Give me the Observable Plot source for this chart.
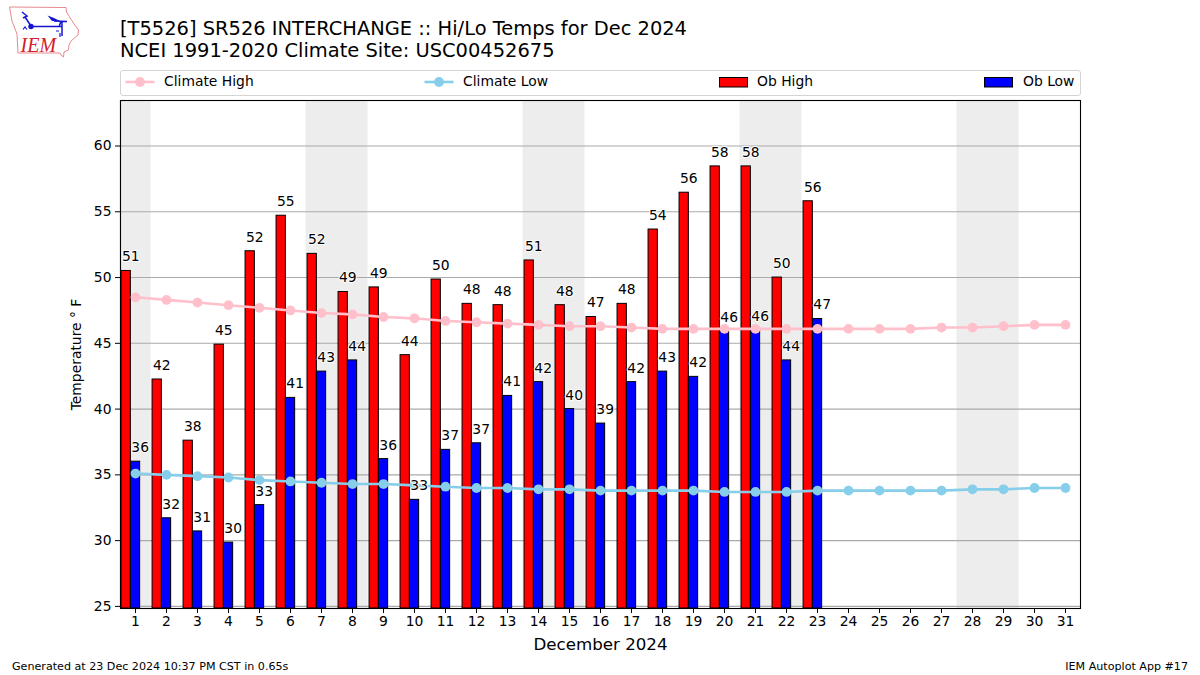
<!DOCTYPE html>
<html><head><meta charset="utf-8">
<script src="https://cdn.jsdelivr.net/npm/d3@7"></script>
<script src="https://cdn.jsdelivr.net/npm/@observablehq/plot@0.6"></script>
<style>
html,body{margin:0;padding:0;background:#fff;width:1200px;height:675px;overflow:hidden;font-family:"DejaVu Sans",sans-serif;color:#000}
#page{position:relative;width:1200px;height:675px}
#page>*{position:absolute}
#chart{left:0;top:0}
#chart svg{display:block}
.t{white-space:nowrap;line-height:1}
#legend{left:120px;top:70px;width:959px;height:24px;border:1px solid #d4d4d4;border-radius:3px}
#legend .t,#legend svg{position:absolute}
</style></head><body>
<div id="page">
<div id="chart"></div>
<svg id="logo" style="left:8px;top:5px" width="72" height="54" viewBox="8 5 72 54">
<path d="M9.5 7 L66 7.5 L66.5 12 L69 16 L74 24 L78.5 30 L78 35 L71 41 L69 45 L68.5 50 L64 52 L63.5 57 L61 55 L60 53 L18 53 L17 34 L12 21 Z" fill="none" stroke="#e58a8f" stroke-width="1"/>
<path d="M31 26.5 H62 M54 21 L67 21.5 M59 27 L61 21 M62 21 V36 M22 12 L27 16 L23 18 M25 17 L31 26" fill="none" stroke="#1414d2" stroke-width="1.5"/>
<path d="M47.5 15.5 L54 18 L60 21 L52 21 Z" fill="#1414d2"/>
<circle cx="31" cy="26.5" r="2.7" fill="#1414d2"/>
<path d="M23 29.5 L25 27 L27 29.5 M56 31 h3 M60 33 v4" fill="none" stroke="#1414d2" stroke-width="1.2"/>
<text x="20.5" y="52" font-family="Liberation Serif" font-style="italic" font-size="20" fill="#d6202a">IEM</text>
</svg>
<div class="t" style="left:120px;top:19px;font-size:19.44px">[T5526] SR526 INTERCHANGE :: Hi/Lo Temps for Dec 2024</div>
<div class="t" style="left:120px;top:41px;font-size:19.44px">NCEI 1991-2020 Climate Site: USC00452675</div>
<div id="legend">
<svg style="left:4px;top:3.5px" width="30" height="14"><line x1="0.5" x2="29.5" y1="7" y2="7" stroke="#ffc0cb" stroke-width="2.6"/><circle cx="15" cy="7" r="4.9" fill="#ffc0cb"/></svg>
<div class="t" style="left:43px;top:4px;font-size:13.89px">Climate High</div>
<svg style="left:303px;top:3.5px" width="30" height="14"><line x1="0.5" x2="29.5" y1="7" y2="7" stroke="#87ceeb" stroke-width="2.6"/><circle cx="15" cy="7" r="4.9" fill="#87ceeb"/></svg>
<div class="t" style="left:342px;top:4px;font-size:13.89px">Climate Low</div>
<svg style="left:598px;top:6px" width="30" height="11"><rect x="0.5" y="0.5" width="28" height="9.5" fill="#f00" stroke="#000"/></svg>
<div class="t" style="left:636px;top:4px;font-size:13.89px">Ob High</div>
<svg style="left:863px;top:6px" width="30" height="11"><rect x="0.5" y="0.5" width="28" height="9.5" fill="#00f" stroke="#000"/></svg>
<div class="t" style="left:902px;top:4px;font-size:13.89px">Ob Low</div>
</div>
<div class="t" style="left:12px;top:661px;font-size:11.11px">Generated at 23 Dec 2024 10:37 PM CST in 0.65s</div>
<div class="t" style="right:12px;top:661px;font-size:11.11px">IEM Autoplot App #17</div>
</div>
<script>
const days = d3.range(1, 32);
const obHigh = [50.5,42.25,37.6,44.9,52,54.7,51.8,48.9,49.25,44.1,49.85,48,47.9,51.3,47.9,47,48,53.65,56.45,58.45,58.45,50,55.8];
const obLow = [36,31.7,30.7,29.85,32.7,40.85,42.85,43.7,36.2,33.1,36.9,37.4,41,42.05,40,38.9,42.05,42.85,42.45,45.9,46,43.7,46.85];
const highLabels = [51,42,38,45,52,55,52,49,49,44,50,48,48,51,48,47,48,54,56,58,58,50,56];
const lowLabels = [36,32,31,30,33,41,43,44,36,33,37,37,41,42,40,39,42,43,42,46,46,44,47];
const climateHigh = [48.5,48.3,48.1,47.9,47.7,47.5,47.3,47.2,47,46.9,46.7,46.6,46.5,46.4,46.3,46.3,46.2,46.1,46.1,46.1,46.1,46.1,46.1,46.1,46.1,46.1,46.2,46.2,46.3,46.4,46.4];
const climateLow = [35.1,35,34.9,34.8,34.6,34.5,34.4,34.3,34.3,34.2,34.1,34,34,33.9,33.9,33.8,33.8,33.8,33.8,33.7,33.7,33.7,33.8,33.8,33.8,33.8,33.8,33.9,33.9,34,34];
const weekends = [[0.5,1.5],[6.5,8.5],[13.5,15.5],[20.5,22.5],[27.5,29.5]];
const yTicks = [25,30,35,40,45,50,55,60];
const yBase = 24.84, yTop = 63.46, barW = 0.3;

const table = vals => vals.map((v, i) => ({day: i + 1, v}));
const halo = {stroke: "#fff", strokeWidth: 2, fill: "#000", fontSize: 13.89, lineAnchor: "middle", dy: -14};

const plot = Plot.plot({
  width: 1200, height: 675,
  marginLeft: 120, marginRight: 120, marginTop: 100, marginBottom: 67,
  style: {fontFamily: "'DejaVu Sans',sans-serif", background: "#fff", color: "#000"},
  x: {domain: [0.516, 31.484], label: null},
  y: {domain: [yBase, yTop], label: null},
  marks: [
    Plot.rect(weekends, {x1: d => d[0], x2: d => d[1], y1: yBase, y2: yTop, fill: "#ededed"}),
    Plot.ruleY(yTicks, {stroke: "#aaaaaa", strokeWidth: 1.1}),
    Plot.rect(table(obHigh), {x1: d => d.day - 1.5 * barW, x2: d => d.day - 0.5 * barW, y1: yBase, y2: "v", fill: "#f00", stroke: "#000", strokeWidth: 1}),
    Plot.rect(table(obLow), {x1: d => d.day - 0.5 * barW, x2: d => d.day + 0.5 * barW, y1: yBase, y2: "v", fill: "#00f", stroke: "#000", strokeWidth: 1}),
    Plot.line(table(climateHigh), {x: "day", y: "v", stroke: "#ffc0cb", strokeWidth: 2.6}),
    Plot.dot(table(climateHigh), {x: "day", y: "v", r: 4.9, fill: "#ffc0cb"}),
    Plot.line(table(climateLow), {x: "day", y: "v", stroke: "#87ceeb", strokeWidth: 2.6}),
    Plot.dot(table(climateLow), {x: "day", y: "v", r: 4.9, fill: "#87ceeb"}),
    Plot.text(table(obHigh), {x: d => d.day - 0.5 * barW, y: "v", text: (d, i) => String(highLabels[i]), ...halo}),
    Plot.text(table(obLow), {x: d => d.day + 0.5 * barW, y: "v", text: (d, i) => String(lowLabels[i]), ...halo}),
    Plot.frame({stroke: "#000", strokeWidth: 1.1}),
    Plot.axisX(days, {tickSize: 5, tickPadding: 3, fontSize: 13.89, tickFormat: d => String(d), label: null, stroke: "#000", fill: "#000"}),
    Plot.axisY(yTicks, {tickSize: 5, tickPadding: 4, fontSize: 13.89, tickFormat: d => String(d), label: null, stroke: "#000", fill: "#000"}),
    Plot.text(["December 2024"], {frameAnchor: "bottom", dy: 36, fontSize: 16.67, fill: "#000", lineAnchor: "middle"}),
    Plot.text(["Temperature ° F"], {frameAnchor: "left", dx: -44, rotate: -90, textAnchor: "middle", fontSize: 13.89, fill: "#000"})
  ]
});
document.getElementById("chart").append(plot);
</script>
</body></html>
